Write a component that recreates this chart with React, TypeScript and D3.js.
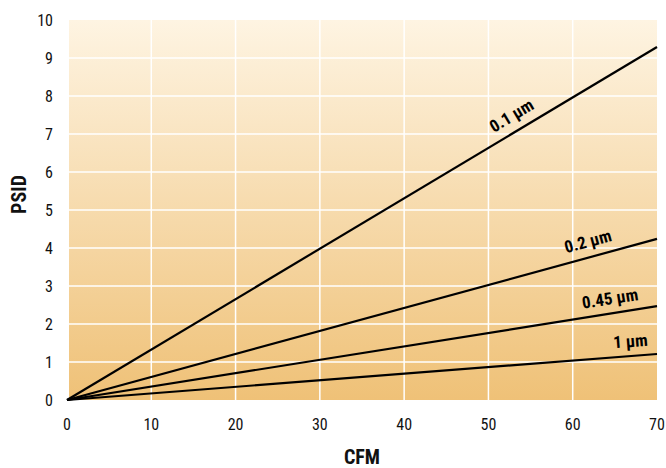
import React from "react";
import * as d3 from "d3";

const xTicks = [0, 10, 20, 30, 40, 50, 60, 70];
const yTicks = [0, 1, 2, 3, 4, 5, 6, 7, 8, 9, 10];
const seriesNames = ["0.1 µm", "0.2 µm", "0.45 µm", "1 µm"];
const seriesEndPSID = [9.29, 4.24, 2.47, 1.21];
const labelCFM = [53.7, 62.3, 64.7, 67.0];
const labelOffset = [16, 16, 15, 15];

const W = 666, H = 468;
const x0 = 67, x1 = 657, y0 = 400, y1 = 20;
const font = "'Roboto Condensed', 'Liberation Sans Narrow', 'Arial Narrow', Roboto, sans-serif";

export default function App() {
  const x = d3.scaleLinear().domain([0, 70]).range([x0, x1]);
  const y = d3.scaleLinear().domain([0, 10]).range([y0, y1]);
  const line = d3.line<[number, number]>().x(d => x(d[0])).y(d => y(d[1]));
  return (
    <svg width={W} height={H} style={{ position: "absolute", left: 0, top: 0 }}>
      <defs>
        <linearGradient id="bg" x1="0" y1="0" x2="0" y2="1">
          <stop offset="0%" stopColor="#fef4e2" />
          <stop offset="100%" stopColor="#efc177" />
        </linearGradient>
      </defs>
      <rect x={69} y={y1} width={x1 - 69} height={y0 - y1} fill="url(#bg)" />
      {xTicks.slice(1, -1).map(t => (
        <line key={"gx" + t} x1={x(t)} x2={x(t)} y1={y1} y2={y0} stroke="#fff" strokeWidth={1.5} />
      ))}
      {yTicks.slice(1, -1).map(t => (
        <line key={"gy" + t} x1={69} x2={x1} y1={y(t)} y2={y(t)} stroke="#fff" strokeWidth={1.5} />
      ))}
      {seriesEndPSID.map((v, i) => (
        <path key={"s" + i} d={line([[0, 0], [70, v]]) || ""} fill="none" stroke="#000" strokeWidth={2.2} />
      ))}
      {seriesEndPSID.map((v, i) => {
        const cx = labelCFM[i];
        const px = x(cx), py = y((v * cx) / 70);
        const ang = Math.atan2(y(0) - y(v), x(70) - x(0));
        const deg = (-ang * 180) / Math.PI;
        const lx = px - Math.sin(ang) * labelOffset[i];
        const ly = py - Math.cos(ang) * labelOffset[i];
        return (
          <text key={"l" + i} x={lx} y={ly} transform={`rotate(${deg} ${lx} ${ly})`} textAnchor="middle"
            dominantBaseline="central" fontFamily={font} fontWeight="bold" fontSize={17} fill="#000">
            {seriesNames[i]}
          </text>
        );
      })}
      {yTicks.map(t => (
        <text key={"yt" + t} x={53} y={y(t)} textAnchor="end" dominantBaseline="central"
          fontFamily={font} fontSize={16} fill="#111">{t}</text>
      ))}
      {xTicks.map(t => (
        <text key={"xt" + t} x={x(t)} y={424} textAnchor="middle" dominantBaseline="central"
          fontFamily={font} fontSize={16} fill="#111">{t}</text>
      ))}
      <text x={362} y={457} textAnchor="middle" dominantBaseline="central" fontFamily={font}
        fontWeight="bold" fontSize={20} fill="#111">CFM</text>
      <text x={19} y={194.5} textAnchor="middle" dominantBaseline="central" fontFamily={font}
        fontWeight="bold" fontSize={20} fill="#111" transform="rotate(-90 19 194.5)">PSID</text>
    </svg>
  );
}
